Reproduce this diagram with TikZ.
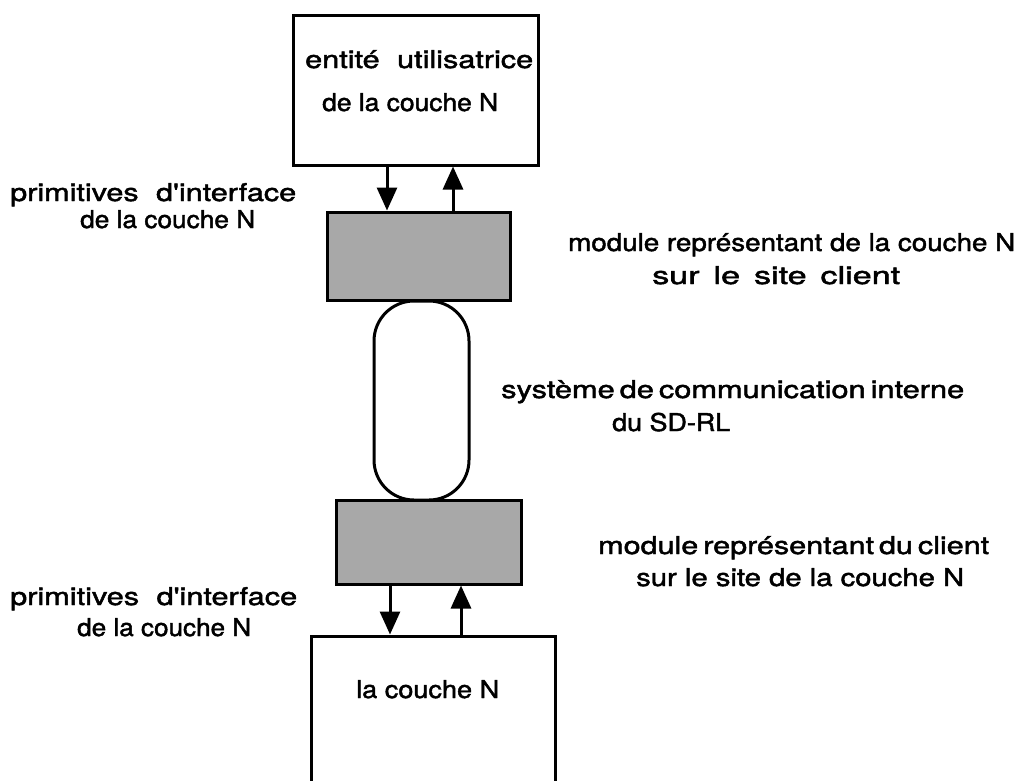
\documentclass[tikz,border=0pt]{standalone}
\usepackage{fontspec}
\usepackage{graphicx}
\setmainfont{TeX Gyre Heros}
\newfontfamily\lblfont{TeX Gyre Heros}[FakeBold=1.6]
\usetikzlibrary{arrows.meta}
\newsavebox\fitbox
\newlength\fitdim
\newcommand{\fitw}[2]{\sbox\fitbox{#2}\setlength\fitdim{\wd\fitbox}\pgfmathsetmacro\fitfac{#1/\fitdim}\scalebox{\fitfac}[1]{\usebox\fitbox}}
\newcommand{\g}[1]{\hspace{#1pt}}
\definecolor{dotgray}{gray}{0.66}
\begin{document}
\begin{tikzpicture}[x=1pt,y=1pt,
  box/.style={draw, line width=3pt, inner sep=0pt},
  shaded/.style={draw, line width=3pt, inner sep=0pt, fill=dotgray},
  lbl/.style={anchor=base west, inner sep=0pt, font=\lblfont\fontsize{24.5}{28}\selectfont},
  arr/.style={line width=3pt, -{Triangle[width=20pt,length=23pt]}}]
\useasboundingbox (0,0) rectangle (1032,-780);
\fill[white] (0,0) rectangle (1032,-780);

% boxes
\node[box, minimum width=245pt, minimum height=150pt] (top) at (415.5,-90) {};
\node[shaded, minimum width=183pt, minimum height=88pt] (mod1) at (418.5,-256) {};
\node[box, rounded corners=40pt, minimum width=95pt, minimum height=199pt] (comm) at (421.5,-400.5) {};
\node[shaded, minimum width=185pt, minimum height=84pt] (mod2) at (428.5,-542) {};
\node[box, minimum width=244pt, minimum height=220pt] (bot) at (433,-746) {};

% arrows
\coordinate (a1) at (387,0);
\coordinate (a2) at (453,0);
\coordinate (a3) at (390,0);
\coordinate (a4) at (461,0);
\draw[arr] (top.south -| a1) -- (mod1.north -| a1);
\draw[arr] (mod1.north -| a2) -- (top.south -| a2);
\draw[arr] (mod2.south -| a3) -- (bot.north -| a3);
\draw[arr] (bot.north -| a4) -- (mod2.south -| a4);

% texts in boxes
\node[lbl] (t1) at (305,-68) {\fitw{228}{entité\g{14}utilisatrice}};
\node[lbl] (t2) at (322,-111) {\fitw{176}{de la couche N}};
\node[lbl] (t3) at (356,-698) {\fitw{143}{la couche N}};

% left labels
\node[lbl] (l1a) at (10,-201) {\fitw{286}{primitives\g{14}d\textquotesingle interface}};
\node[lbl] (l1b) at (80,-228) {\fitw{175}{de la couche N}};
\node[lbl] (l2a) at (10,-605) {\fitw{287}{primitives\g{14}d\textquotesingle interface}};
\node[lbl] (l2b) at (77,-636) {\fitw{174}{de la couche N}};

% right labels
\node[lbl] (r1a) at (568,-251) {\fitw{447}{module représentant de la couche N}};
\node[lbl] (r1b) at (652,-284) {\fitw{248}{sur\g{10}le\g{10}site\g{10}client}};
\node[lbl] (r2a) at (501,-398) {\fitw{463}{système\g{4}de\g{4}communication\g{4}interne}};
\node[lbl] (r2b) at (612,-431) {\fitw{118}{du SD-RL}};
\node[lbl] (r3a) at (598,-554) {\fitw{391}{module\g{4}représentant\g{4}du\g{4}client}};
\node[lbl] (r3b) at (636,-586) {\fitw{328}{sur le site de la couche N}};
\end{tikzpicture}
\end{document}
